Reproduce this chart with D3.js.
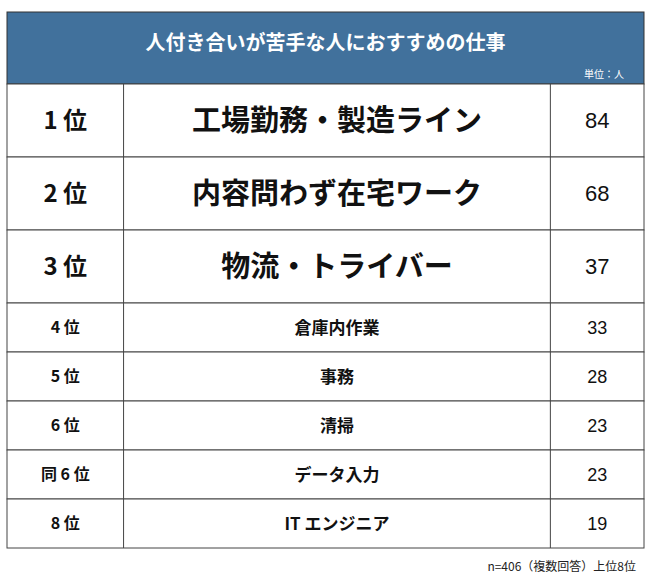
<!DOCTYPE html>
<html><head><meta charset="utf-8">
<script src="https://cdn.jsdelivr.net/npm/d3@7"></script>
<style>body{margin:0;background:#fff}</style>
</head><body>
<svg id="chart" width="650" height="581"></svg>
<script>
const title = '人付き合いが苦手な人におすすめの仕事';
const unit = '単位：人';
const ranks = ['1位', '2位', '3位', '4位', '5位', '6位', '同6位', '8位'];
const jobs = ['工場勤務・製造ライン', '内容問わず在宅ワーク', '物流・トライバー', '倉庫内作業', '事務', '清掃', 'データ入力', 'IT エンジニア'];
const values = [84, 68, 37, 33, 28, 23, 23, 19];
const note = 'n=406（複数回答）上位8位';

const svg = d3.select('#chart');
const mLeft = 7, mRight = 644, mTop = 12, headH = 72;
const font = '"Noto Sans CJK JP", sans-serif';

// row heights: top 3 are larger
const rowH = values.map((d, i) => i < 3 ? 73 : 49);
const rowY = [];
rowH.reduce((acc, h, i) => { rowY[i] = acc; return acc + h; }, mTop + headH);
const tableBottom = rowY[7] + rowH[7];

const x = d3.scaleLinear().domain([0, 1]).range([mLeft, mRight]);
const cols = [0, 0.183, 0.853, 1];

svg.append('rect')
  .attr('x', mLeft).attr('y', mTop).attr('width', mRight - mLeft).attr('height', headH)
  .attr('fill', '#41719c').attr('stroke', '#333');
svg.append('text').attr('x', (mLeft + mRight) / 2).attr('y', mTop + 38)
  .attr('text-anchor', 'middle').attr('fill', '#fff')
  .style('font', `bold 20px ${font}`).text(title);
svg.append('text').attr('x', mRight - 20).attr('y', mTop + 66)
  .attr('text-anchor', 'end').attr('fill', '#fff')
  .style('font', `10px ${font}`).text(unit);

let rows = svg.selectAll('.row').data(d3.range(values.length)).enter().append('g')
  .attr('class', 'row')
  .attr('transform', i => `translate(0, ${rowY[i]})`);

rows.append('rect')
  .attr('x', mLeft).attr('width', mRight - mLeft).attr('height', i => rowH[i])
  .attr('fill', '#fff').attr('stroke', '#444').attr('stroke-width', 1);

rows.each(function (i) {
  d3.select(this).selectAll('line').data([cols[1], cols[2]]).enter().append('line')
    .attr('x1', d => x(d)).attr('x2', d => x(d))
    .attr('y1', 0).attr('y2', rowH[i])
    .attr('stroke', '#444');
});

rows.append('text')
  .attr('x', x((cols[0] + cols[1]) / 2)).attr('y', i => rowH[i] / 2)
  .attr('dy', '0.36em').attr('text-anchor', 'middle').attr('fill', '#111')
  .style('font', i => `bold ${i < 3 ? 24 : 16}px ${font}`)
  .text(i => ranks[i].replace(/(\d)/, ' $1 ').trim());

rows.append('text')
  .attr('x', x((cols[1] + cols[2]) / 2)).attr('y', i => rowH[i] / 2)
  .attr('dy', '0.36em').attr('text-anchor', 'middle').attr('fill', '#111')
  .style('font', i => `bold ${i < 3 ? 29 : 17}px ${font}`)
  .text(i => jobs[i]);

rows.append('text')
  .attr('x', x((cols[2] + cols[3]) / 2)).attr('y', i => rowH[i] / 2)
  .attr('dy', '0.36em').attr('text-anchor', 'middle').attr('fill', '#111')
  .style('font', i => `${i < 3 ? 22 : 18}px "Liberation Sans", sans-serif`)
  .text(i => values[i]);

svg.append('text').attr('x', mRight - 8).attr('y', tableBottom + 23)
  .attr('text-anchor', 'end').attr('fill', '#222')
  .style('font', `12px ${font}`).text(note);
</script>
</body></html>
